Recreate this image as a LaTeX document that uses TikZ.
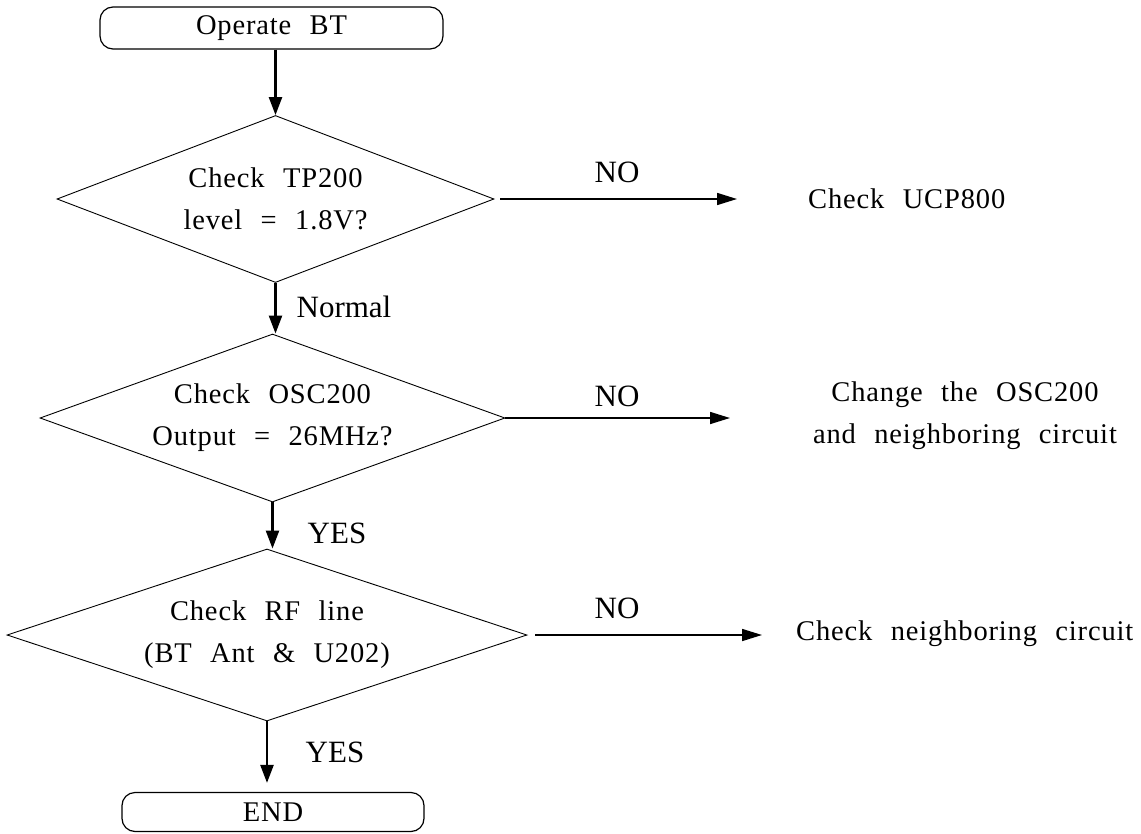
\documentclass[tikz,border=0pt]{standalone}
\usepackage{fontspec}
\setmainfont{Liberation Serif}
\newfontfamily\bodyfont{Liberation Serif}[LetterSpace=3,WordSpace=2.3]
\usetikzlibrary{arrows.meta,shapes.geometric}
\begin{document}
\begin{tikzpicture}[x=1pt,y=-1pt,
  body/.style={font=\bodyfont\fontsize{28.5}{42}\selectfont, text=black},
  lbl/.style={font=\fontsize{31}{36}\selectfont, anchor=base, inner sep=0pt},
  term/.style={draw, line width=1.2pt, rounded corners=13pt, inner sep=0pt, body},
  dec/.style={draw, diamond, line width=0.9pt, inner sep=0pt, body, align=center},
  varrow/.style={line width=2.4pt, -{Triangle[length=18pt,width=13pt]}},
  harrow/.style={line width=1.6pt, -{Triangle[length=20pt,width=12pt]}},
]
\useasboundingbox (0,0) rectangle (1141,833);
% terminals
\node[term, minimum width=343pt, minimum height=42pt] (start) at (271.5,28) {Operate BT};
\node[term, minimum width=302pt, minimum height=39pt] (end) at (273,812) {END};
% decisions
\node[dec, shape aspect=2.62, minimum width=437pt, minimum height=167pt] (d1) at (275.5,199) {Check TP200\\level = 1.8V?};
\node[dec, shape aspect=2.77, minimum width=465pt, minimum height=168pt] (d2) at (272.5,418) {Check OSC200\\Output = 26MHz?};
\node[dec, shape aspect=3.02, minimum width=520pt, minimum height=172pt] (d3) at (267,635) {Check RF line\\(BT Ant \& U202)};
% right-hand results
\node[body, anchor=base west, inner sep=0pt] (r1) at (808,208) {Check UCP800};
\node[body, align=center, inner sep=0pt] (r2) at (965,416) {Change the OSC200\\and neighboring circuit};
\node[body, anchor=base west, inner sep=0pt] (r3) at (796,640) {Check neighboring circuit};
% arrow end points
\coordinate (e1) at (737,199);
\coordinate (e2) at (730,418);
\coordinate (e3) at (762,635);
% labels
\node[lbl] (no1) at (617,182) {NO};
\node[lbl] (no2) at (617,406) {NO};
\node[lbl] (no3) at (617,618) {NO};
\node[lbl] (normal) at (344,317) {Normal};
\node[lbl] (yes1) at (337,543) {YES};
\node[lbl] (yes2) at (335,762) {YES};
% connectors
\draw[varrow] (d1.north |- start.south) -- (d1.north);
\draw[varrow] (d1.south) -- (d1.south |- d2.north);
\draw[varrow] (d2.south) -- (d2.south |- d3.north);
\draw[varrow, shorten >=9pt] (d3.south) -- (d3.south |- end.north);
\draw[harrow, shorten <=6pt] (d1.east) -- (e1);
\draw[harrow] (d2.east) -- (e2);
\draw[harrow, shorten <=8pt] (d3.east) -- (e3);
\end{tikzpicture}
\end{document}
